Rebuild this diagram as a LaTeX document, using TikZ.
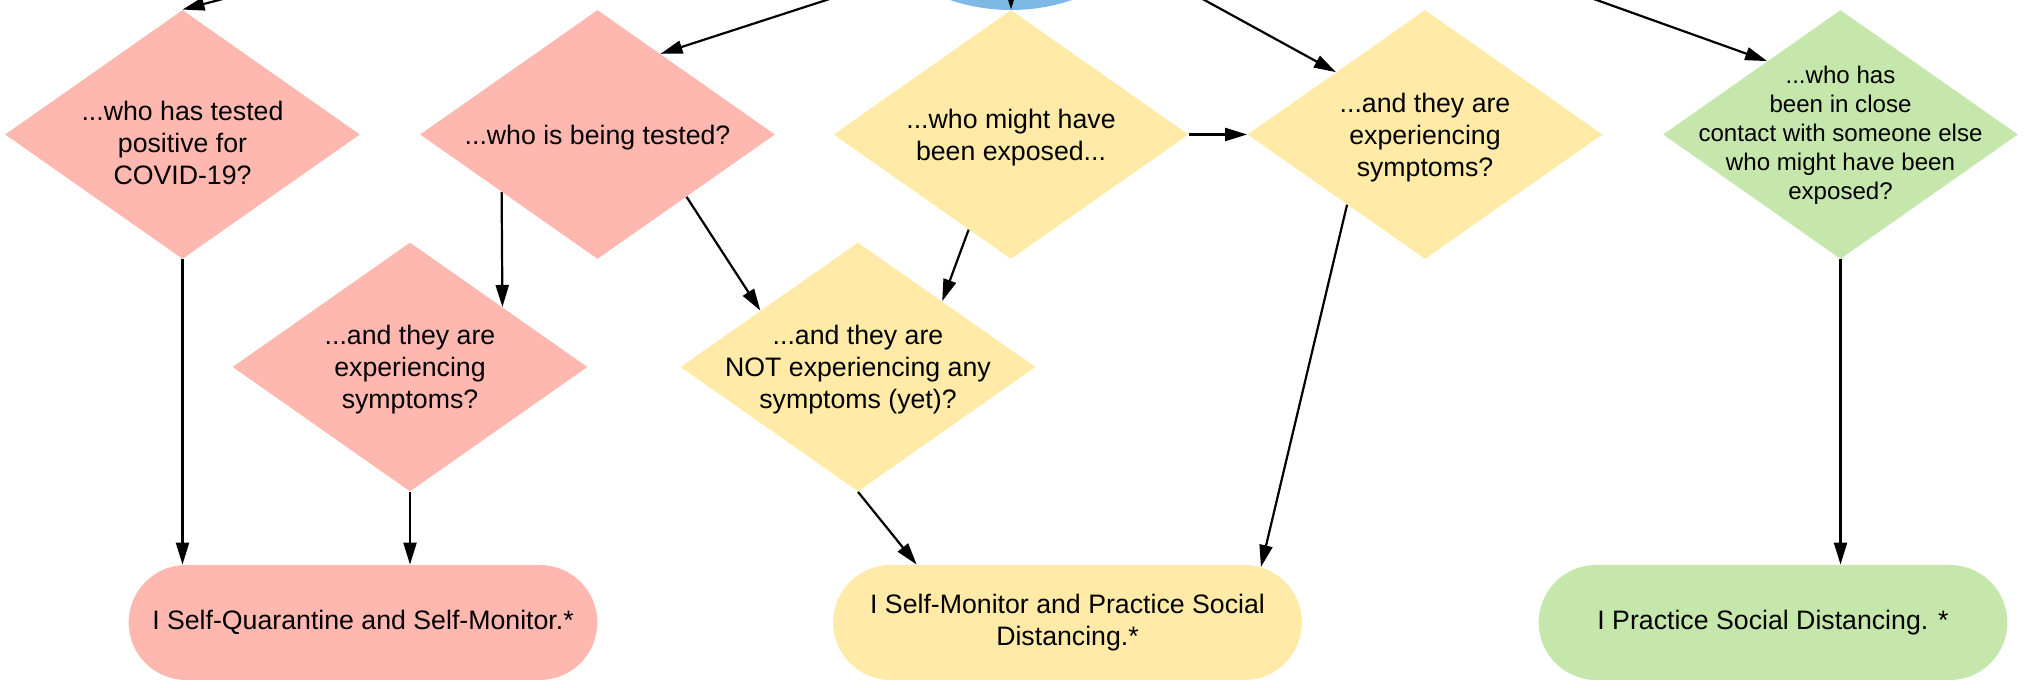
\documentclass[tikz,border=0pt]{standalone}
\usepackage{fontspec}
\setmainfont{Liberation Sans}
\usetikzlibrary{arrows.meta,shapes.geometric,shapes.misc}
\definecolor{TestRed}{RGB}{255,184,176}
\definecolor{ExposeYellow}{RGB}{255,234,167}
\definecolor{ContactGreen}{RGB}{198,231,172}
\definecolor{StartBlue}{RGB}{126,184,228}
\newcommand{\qfont}{\fontsize{13.35}{16}\selectfont}

\begin{document}
\begin{tikzpicture}[x=0.5pt,y=-0.5pt,>={Triangle[length=11pt,width=6.5pt]},
  ask/.style={diamond,minimum width=177.5pt,minimum height=124.5pt,inner sep=0pt},
  asktext/.style={align=center,font=\qfont,inner sep=0pt,yshift=-1.5pt},
  act/.style={rounded rectangle,minimum width=241pt,minimum height=57.5pt,align=center,font=\qfont},
  flow/.style={->,line width=1.1pt}]
\useasboundingbox (0,0) rectangle (2028,688);
\node[ellipse,fill=StartBlue,minimum width=175pt,minimum height=160pt] (root) at (1011,-150) {};
% questions
\node[ask,fill=TestRed,label={[asktext,yshift=-2.5pt]center:{...who has tested\\positive for\\COVID-19?}}] (d1) at (182.5,134.5) {};
\node[ask,fill=TestRed,label={[asktext]center:{...who is being tested?}}] (d2) at (597.5,134.5) {};
\node[ask,fill=ExposeYellow,label={[asktext]center:{...who might have\\been exposed...}}] (d3) at (1011,134.5) {};
\node[ask,fill=ExposeYellow,label={[asktext]center:{...and they are\\experiencing\\symptoms?}}] (d4) at (1425,134.5) {};
\node[ask,fill=ContactGreen,label={[asktext,yshift=1pt,font=\fontsize{12.05}{14.5}\selectfont]center:{...who has\\been in close\\contact with someone else\\who might have been\\exposed?}}] (d5) at (1840.5,134.5) {};
\node[ask,fill=TestRed,label={[asktext]center:{...and they are\\experiencing\\symptoms?}}] (d6) at (410,367) {};
\node[ask,fill=ExposeYellow,label={[asktext]center:{...and they are\\NOT experiencing any\\symptoms (yet)?}}] (d7) at (858,367) {};
% outcomes
\node[act,fill=TestRed] (t1) at (363,622.5) {I Self-Quarantine and Self-Monitor.*};
\node[act,fill=ExposeYellow] (t2) at (1067.5,622.5) {I Self-Monitor and Practice Social\\Distancing.*};
\node[act,fill=ContactGreen] (t3) at (1773,622.5) {I Practice Social Distancing. *};
\draw[flow] (root.176)--(d1.north);\draw[flow] (root.229)--(d2.52);\draw[flow] (root.center)--(d3.north);
\draw[flow] (root.318)--(d4.145);\draw[flow] (root.359)--(d5.135);
\draw[flow] (d3)--(d4);\draw[flow] (d2.211)--(d6.33);\draw[flow] (d2.325)--(d7.150);\draw[flow] (d3.246)--(d7.38);
\draw[flow] (d1.south)--(d1.south |- t1.north);\draw[flow] (d6.south)--(d6.south |- t1.north);
\draw[flow] (d7.south)--(t2.159);\draw[flow] (d4.222)--(t2.16);\draw[flow] (d5.south)--(d5.south |- t3.north);
\end{tikzpicture}
\end{document}
